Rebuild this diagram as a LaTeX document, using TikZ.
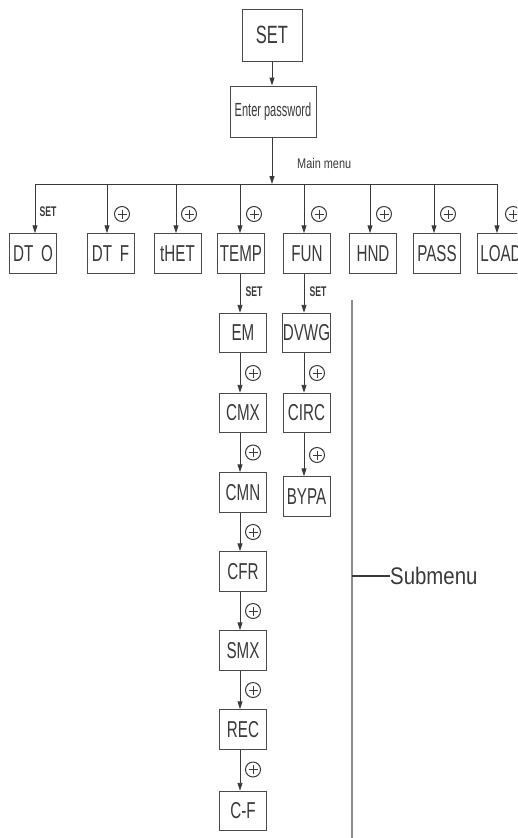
\documentclass[tikz,border=0pt]{standalone}
\usepackage{fontspec}
\usetikzlibrary{arrows.meta,calc}
\newfontfamily\boxfont[FakeStretch=0.66]{Liberation Sans}
\newfontfamily\mmfont[FakeStretch=0.78]{Liberation Sans}
\newfontfamily\narrowfont[FakeStretch=0.58]{Liberation Sans}
\newfontfamily\subfont[FakeStretch=0.85]{Liberation Sans}
\newfontfamily\setlblfont[FakeStretch=0.62]{Liberation Sans Bold}
\definecolor{ink}{HTML}{3A3A3A}
\definecolor{boxline}{HTML}{4A4A4A}
\definecolor{graybar}{HTML}{8C8C8C}
\tikzset{
  menubox/.style={draw=boxline, line width=0.9pt, minimum width=47pt, minimum height=39.5pt, inner sep=0pt, text=ink, font=\boxfont\fontsize{23}{25}\selectfont},
  conn/.style={draw=ink, line width=0.9pt},
  arr/.style={conn, -{Triangle[length=8pt,width=5pt]}},
  setlbl/.style={inner sep=0pt, text=ink, font=\setlblfont\fontsize{14}{15}\selectfont},
  plusmark/.style={circle, draw=ink, line width=1pt, minimum size=15pt, inner sep=0pt,
    path picture={\draw[ink, line width=1pt] ($(path picture bounding box.center)+(-4.5pt,0)$) -- ($(path picture bounding box.center)+(4.5pt,0)$)
      ($(path picture bounding box.center)+(0,-4.5pt)$) -- ($(path picture bounding box.center)+(0,4.5pt)$);}},
}
\begin{document}
\begin{tikzpicture}[x=1pt,y=-1pt]
\useasboundingbox (0,0) rectangle (517,838);
\begin{scope}
\clip (0,0) rectangle (517,838);
% top
\node[menubox, minimum width=60pt, minimum height=52pt, font=\boxfont\fontsize{25}{27}\selectfont] (set) at (272,35) {SET};
\node[menubox, minimum width=86pt, minimum height=51pt, font=\narrowfont\fontsize{19}{21}\selectfont] (pw) at (273,111.5) {Enter password};
\draw[arr] (set.south) -- (set.south |- pw.north);
\coordinate (bus) at (272,184);
\draw[arr] (pw.south -| bus) -- (bus);
\node[anchor=west, inner sep=0pt, text=ink, font=\mmfont\fontsize{14}{15}\selectfont] (mm) at (297,163) {Main menu};
% main row
\node[menubox] (dto) at (33,253.5) {DT\,\,O};
\node[menubox] (dtf) at (110.5,253.5) {DT\,\,F};
\node[menubox] (thet) at (177.5,253.5) {tHET};
\node[menubox] (temp) at (241,253.5) {TEMP};
\node[menubox] (fun) at (307,253.5) {FUN};
\node[menubox] (hnd) at (373,253.5) {HND};
\node[menubox] (pass) at (437,253.5) {PASS};
\node[menubox] (load) at (501,253.5) {LOAD};
\coordinate (t1) at (35,184);
\coordinate (t2) at (107,184);
\coordinate (t3) at (176,184);
\coordinate (t4) at (240,184);
\coordinate (t5) at (304,184);
\coordinate (t6) at (370,184);
\coordinate (t7) at (434,184);
\coordinate (t8) at (497,184);
\draw[conn] (t1) -- (t8);
\draw[arr] (t1) -- (t1 |- dto.north);
\draw[arr] (t2) -- (t2 |- dtf.north);
\draw[arr] (t3) -- (t3 |- thet.north);
\draw[arr] (t4) -- (t4 |- temp.north);
\draw[arr] (t5) -- (t5 |- fun.north);
\draw[arr] (t6) -- (t6 |- hnd.north);
\draw[arr] (t7) -- (t7 |- pass.north);
\draw[arr] (t8) -- (t8 |- load.north);
\node[setlbl] (s1) at (48,212) {SET};
\node[plusmark] (p2) at (122,214) {};
\node[plusmark] (p3) at (189,214) {};
\node[plusmark] (p4) at (254,214) {};
\node[plusmark] (p5) at (319,214) {};
\node[plusmark] (p6) at (384,214) {};
\node[plusmark] (p7) at (448,214) {};
\node[plusmark] (p8) at (513,214) {};
% TEMP column
\node[menubox] (em) at (243,333) {EM};
\node[menubox] (cmx) at (243,413) {CMX};
\node[menubox] (cmn) at (243,492.5) {CMN};
\node[menubox] (cfr) at (243,571.5) {CFR};
\node[menubox] (smx) at (243,650.5) {SMX};
\node[menubox] (rec) at (243,729.5) {REC};
\node[menubox] (cf) at (243,811) {C-F};
\coordinate (tx) at (240,0);
\draw[arr] (tx |- temp.south) -- (tx |- em.north);
\draw[arr] (tx |- em.south) -- (tx |- cmx.north);
\draw[arr] (tx |- cmx.south) -- (tx |- cmn.north);
\draw[arr] (tx |- cmn.south) -- (tx |- cfr.north);
\draw[arr] (tx |- cfr.south) -- (tx |- smx.north);
\draw[arr] (tx |- smx.south) -- (tx |- rec.north);
\draw[arr] (tx |- rec.south) -- (tx |- cf.north);
\node[setlbl] (s2) at (254,292) {SET};
\node[plusmark] (q1) at (253,373) {};
\node[plusmark] (q2) at (253,452.5) {};
\node[plusmark] (q3) at (253,532) {};
\node[plusmark] (q4) at (253,611) {};
\node[plusmark] (q5) at (253,690) {};
\node[plusmark] (q6) at (253,769.5) {};
% FUN column
\node[menubox] (dvwg) at (306.5,333) {DVWG};
\node[menubox] (circ) at (306.5,413) {CIRC};
\node[menubox] (bypa) at (306.5,496.5) {BYPA};
\coordinate (fx) at (304,0);
\draw[arr] (fx |- fun.south) -- (fx |- dvwg.north);
\draw[arr] (fx |- dvwg.south) -- (fx |- circ.north);
\draw[arr] (fx |- circ.south) -- (fx |- bypa.north);
\node[setlbl] (s3) at (318,292) {SET};
\node[plusmark] (r1) at (317,373) {};
\node[plusmark] (r2) at (317,455) {};
% submenu bracket
\coordinate (gtop) at (352,300);
\coordinate (gbot) at (352,838);
\coordinate (gmid) at (352,576);
\draw[graybar, line width=2pt] (gtop) -- (gbot);
\node[anchor=west, inner sep=0pt, text=ink, font=\subfont\fontsize{24}{26}\selectfont] (sub) at (390,576) {Submenu};
\draw[ink, line width=1.2pt] (gmid) -- (sub.west);
\end{scope}
\end{tikzpicture}
\end{document}
